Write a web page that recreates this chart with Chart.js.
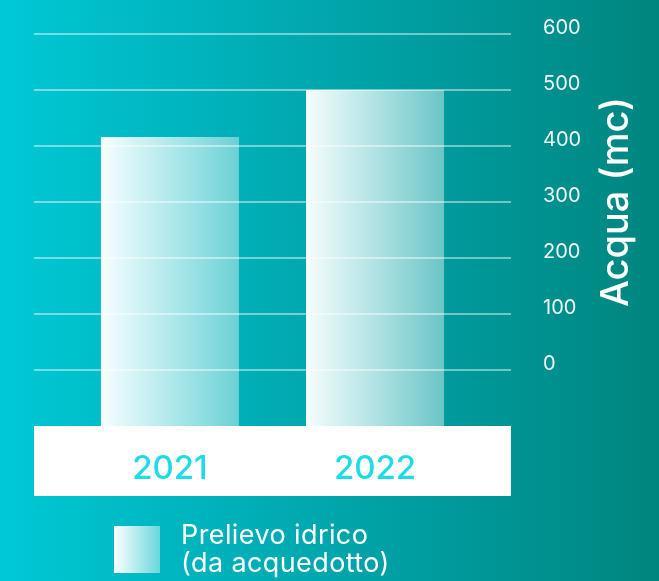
<!DOCTYPE html>
<html>
<head>
<meta charset="utf-8">
<script src="https://cdn.jsdelivr.net/npm/chart.js@4.4.0/dist/chart.umd.min.js"></script>
<style>
html, body { margin: 0; padding: 0; }
body {
    width: 659px; height: 581px; overflow: hidden; position: relative;
    background: linear-gradient(to right, #00c9d6 0%, #00b0b9 35%, #009c9f 65%, #00857e 100%);
    font-family: Inter, "Liberation Sans", sans-serif;
}
#grafico { position: absolute; left: 0; top: 0; }
#legenda { position: absolute; left: 114px; top: 521px; display: flex; align-items: center; color: #fff; }
.quadrato { width: 46px; height: 47px; margin-right: 21px; background: linear-gradient(to right, #fbffff, rgba(255,255,255,0.42)); }
.testo { font-size: 27px; line-height: 28px; letter-spacing: 0.4px; }
</style>
</head>
<body>
<canvas id="grafico" width="659" height="581"></canvas>
<div id="legenda">
    <div class="quadrato"></div>
    <div class="testo">Prelievo idrico<br>(da acquedotto)</div>
</div>
<script>
// dati
const anni = ['2021', '2022'];
const prelievo = [416, 500];
const tickY = [0, 100, 200, 300, 400, 500, 600];
const titoloY = 'Acqua (mc)';

// fascia bianca sotto le barre (zona etichette anni)
const fasciaBianca = {
    id: 'fasciaBianca',
    beforeDraw(chart) {
        const { ctx, chartArea, scales } = chart;
        ctx.save();
        ctx.fillStyle = '#ffffff';
        ctx.fillRect(chartArea.left, chartArea.bottom, chartArea.right - chartArea.left, scales.x.height);
        ctx.restore();
    }
};

// titolo asse y letto dal basso verso l'alto
const titoloAsse = {
    id: 'titoloAsse',
    afterDraw(chart) {
        const ctx = chart.ctx;
        const s = chart.scales.y;
        ctx.save();
        ctx.translate(s.right - 42, (s.top + s.bottom) / 2 - 28);
        ctx.rotate(-Math.PI / 2);
        ctx.font = '500 38px Inter';
        ctx.fillStyle = '#ffffff';
        ctx.textAlign = 'center';
        ctx.textBaseline = 'middle';
        ctx.fillText(titoloY, 0, 0);
        ctx.restore();
    }
};

function coloreBarra(context) {
    const chart = context.chart;
    const { chartArea, scales } = chart;
    if (!chartArea) return 'rgba(255,255,255,0.8)';
    const xc = scales.x.getPixelForValue(context.dataIndex);
    const meta = (scales.x.getPixelForValue(1) - scales.x.getPixelForValue(0)) * 0.673 / 2;
    const g = chart.ctx.createLinearGradient(xc - meta, 0, xc + meta, 0);
    g.addColorStop(0, 'rgba(255,255,255,0.97)');
    g.addColorStop(1, 'rgba(255,255,255,0.42)');
    return g;
}

var ctx = document.getElementById('grafico').getContext('2d');

new Chart(ctx, {
    type: 'bar',
    data: {
        datasets: [{
            label: 'Prelievo idrico (da acquedotto)',
            data: anni.map((a, i) => ({ x: i, y: prelievo[i] })),
            base: -100,
            backgroundColor: coloreBarra,
            borderWidth: 0,
            barPercentage: 0.673,
            categoryPercentage: 1
        }]
    },
    options: {
        responsive: false,
        animation: false,
        devicePixelRatio: 1,
        layout: { padding: { left: 34, top: 34, right: 0, bottom: 85 } },
        plugins: {
            legend: { display: false },
            tooltip: { enabled: false }
        },
        scales: {
            x: {
                type: 'linear',
                offset: false,
                min: -0.663,
                max: 1.663,
                afterBuildTicks: (s) => { s.ticks = anni.map((a, i) => ({ value: i })); },
                afterFit: (s) => { s.height = 70; s.paddingLeft = 0; s.paddingRight = 0; },
                grid: { display: false, offset: false },
                border: { display: false },
                ticks: {
                    callback: (v) => anni[v],
                    color: '#1fdbe9',
                    font: { family: 'Inter', size: 33, weight: 500 },
                    padding: 15,
                    maxRotation: 0,
                    autoSkip: false
                }
            },
            y: {
                position: 'right',
                min: -100,
                max: 600,
                z: 1,
                afterBuildTicks: (s) => { s.ticks = tickY.map(v => ({ value: v })); },
                afterFit: (s) => { s.width = 148; s.paddingTop = 0; s.paddingBottom = 0; },
                grid: { color: 'rgba(255,255,255,0.45)', lineWidth: 2, drawTicks: false },
                border: { display: false },
                ticks: {
                    color: 'rgba(255,255,255,0.92)',
                    font: { family: 'Inter', size: 20 },
                    padding: 32,
                    labelOffset: -6
                }
            }
        }
    },
    plugins: [fasciaBianca, titoloAsse]
});
</script>
</body>
</html>
